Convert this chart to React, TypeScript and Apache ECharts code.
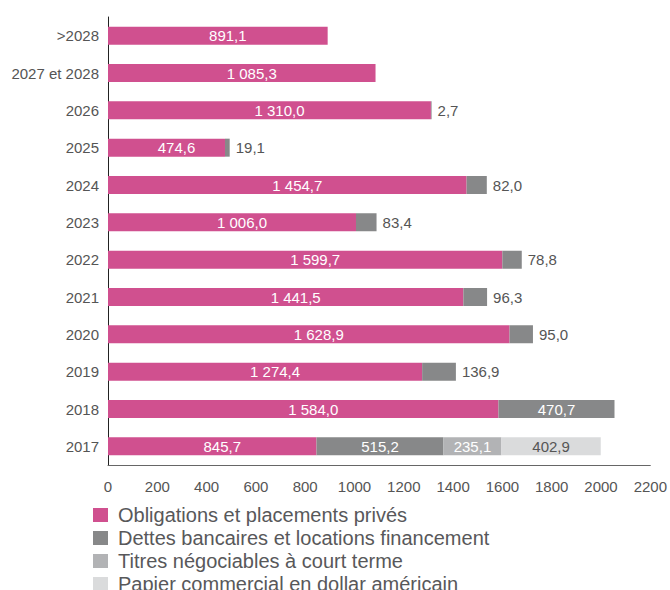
import React, { useEffect, useRef } from "react";
import * as echarts from "echarts";

const categories = ["2017", "2018", "2019", "2020", "2021", "2022", "2023", "2024", "2025", "2026", "2027 et 2028", ">2028"];
const obligations = [845.7, 1584.0, 1274.4, 1628.9, 1441.5, 1599.7, 1006.0, 1454.7, 474.6, 1310.0, 1085.3, 891.1];
const dettes = [515.2, 470.7, 136.9, 95.0, 96.3, 78.8, 83.4, 82.0, 19.1, 2.7, null, null];
const titres = [235.1, null, null, null, null, null, null, null, null, null, null, null];
const papier = [402.9, null, null, null, null, null, null, null, null, null, null, null];
const seriesNames = [
  "Obligations et placements privés",
  "Dettes bancaires et locations financement",
  "Titres négociables à court terme",
  "Papier commercial en dollar américain",
];
const xTicks = { min: 0, max: 2200, interval: 200 };

const COLORS = ["#d0508f", "#878889", "#b2b3b5", "#dadbdc"];
const FONT = "'Liberation Sans', Arial, sans-serif";
const CHART_H = 620;

function fmt(v: number): string {
  const [i, d] = v.toFixed(1).split(".");
  const withSep = i.replace(/\B(?=(\d{3})+(?!\d))/g, " ");
  return withSep + "," + d;
}

export default function App() {
  const ref = useRef<HTMLDivElement>(null);
  useEffect(() => {
    if (!ref.current) return;
    const chart = echarts.init(ref.current, undefined, { renderer: "svg" });
    const labelBase = { show: true, fontFamily: FONT, fontSize: 15, formatter: (p: any) => fmt(p.value) };
    const dettesData = dettes.map((v) => {
      if (v == null) return null;
      if (v < 200) {
        return { value: v, label: { position: "right", distance: 6, color: "#555" } };
      }
      return { value: v, label: { position: "inside", color: "#fff" } };
    });
    chart.setOption({
      animation: false,
      backgroundColor: "#fff",
      textStyle: { fontFamily: FONT },
      grid: { left: 108, right: 18, top: 17, bottom: CHART_H - 465, containLabel: false },
      legend: {
        orient: "vertical",
        left: 88,
        top: 500,
        itemWidth: 15,
        itemHeight: 14,
        itemGap: 3,
        icon: "rect",
        textStyle: { fontFamily: FONT, fontSize: 20, lineHeight: 20, color: "#58585a", padding: [0, 0, 0, 5] },
        data: seriesNames,
      },
      xAxis: {
        type: "value",
        min: xTicks.min,
        max: xTicks.max,
        interval: xTicks.interval,
        axisLine: { show: true, lineStyle: { color: "#666", width: 1 } },
        axisTick: { show: false },
        splitLine: { show: false },
        axisLabel: { fontFamily: FONT, fontSize: 15, color: "#555", margin: 14, formatter: (v: number) => String(v) },
      },
      yAxis: {
        type: "category",
        data: categories,
        axisLine: { show: true, lineStyle: { color: "#222", width: 1 } },
        axisTick: { show: false },
        axisLabel: { fontFamily: FONT, fontSize: 15, color: "#555", margin: 9 },
      },
      series: [
        {
          name: seriesNames[0],
          type: "bar",
          stack: "t",
          barWidth: 18,
          itemStyle: { color: COLORS[0] },
          label: { ...labelBase, position: "inside", color: "#fff", offset: [10, 0] },
          data: obligations,
        },
        {
          name: seriesNames[1],
          type: "bar",
          stack: "t",
          barWidth: 18,
          itemStyle: { color: COLORS[1] },
          label: { ...labelBase },
          data: dettesData,
        },
        {
          name: seriesNames[2],
          type: "bar",
          stack: "t",
          barWidth: 18,
          itemStyle: { color: COLORS[2] },
          label: { ...labelBase, position: "inside", color: "#fff" },
          data: titres,
        },
        {
          name: seriesNames[3],
          type: "bar",
          stack: "t",
          barWidth: 18,
          itemStyle: { color: COLORS[3] },
          label: { ...labelBase, position: "inside", color: "#555" },
          data: papier,
        },
      ],
    });
    return () => chart.dispose();
  }, []);
  return (
    <div style={{ position: "fixed", left: 0, top: 0, width: 670, height: 590, overflow: "hidden", background: "#fff" }}>
      <div ref={ref} style={{ width: 670, height: CHART_H }} />
    </div>
  );
}
